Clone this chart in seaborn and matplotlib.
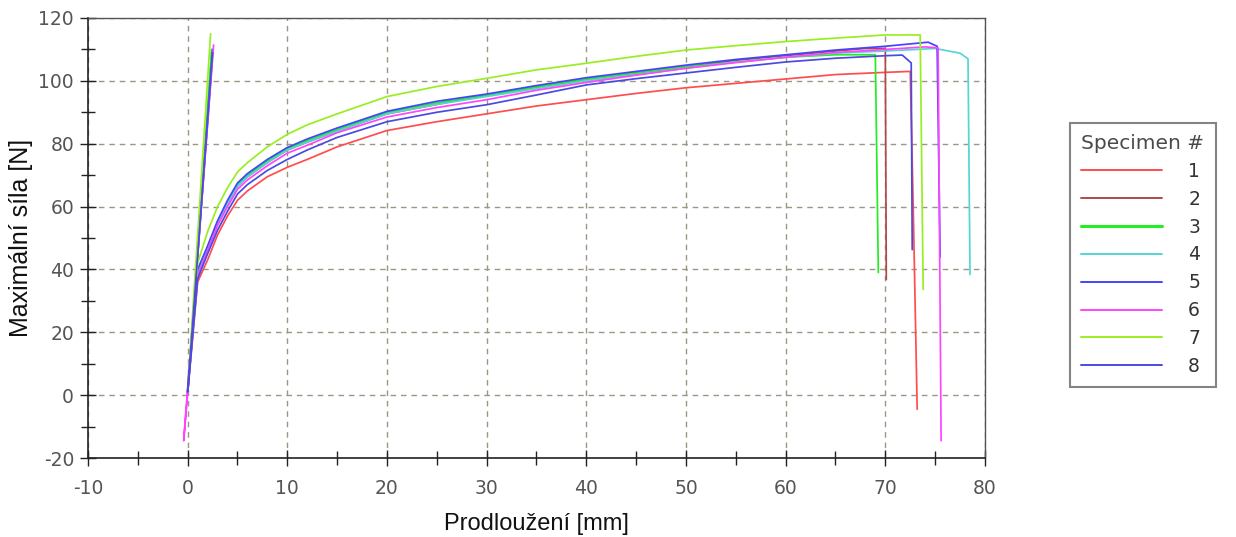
import matplotlib
matplotlib.use("Agg")
import matplotlib.pyplot as plt
from matplotlib.ticker import MultipleLocator
import seaborn as sns
import pandas as pd

# Tensile test records: elongation [mm] vs. force [N] for eight specimens
SPECIMENS = ["1", "2", "3", "4", "5", "6", "7", "8"]
COLORS = ["#ff4d4d", "#b04a4a", "#22ee22", "#55d5d5",
          "#4444ff", "#ff44ff", "#99ee22", "#4a4ae0"]

# elastic ramp: end point at the top and start point at the bottom
RAMP_TOP_X = [2.4, 2.5, 2.4, 2.5, 2.5, 2.6, 2.3, 2.5]
RAMP_TOP_F = [108, 109, 110, 108, 110, 111.4, 115, 109]
RAMP_BOT_X = [0.0, 0.0, 0.0, 0.0, 0.0, -0.4, 0.0, 0.0]
RAMP_BOT_F = [0.5, 1.0, 1.0, 1.0, 1.4, -14.5, 1.5, 1.0]

# hardening curve, sampled on a common elongation grid
STRAIN = [1, 2, 3, 4, 5, 6, 8, 10, 12, 15, 20, 25, 30, 35, 40, 45, 50, 55, 60, 65]
F1 = [36, 43, 51, 57, 62, 65, 69.5, 72.5, 75, 79, 84.2, 87, 89.5, 92, 94, 96, 97.8, 99.2, 100.6, 102]
F2 = [39, 47, 55, 61, 66.5, 69.5, 74, 78, 80.5, 84, 89.5, 92.5, 95.5, 98, 100.5, 102.5, 104.5, 106.5, 108, 109.5]
F3 = [39, 47, 55, 61.5, 67, 70, 74.5, 78.5, 81, 84.5, 90, 93, 95.5, 98, 100.5, 102.5, 104.5, 106, 107.5, 108.3]
F4 = [39, 47, 55, 61, 66.5, 69.5, 74, 78, 80.5, 84, 89.5, 92.5, 95, 97.5, 100, 102, 104, 106, 107.5, 108.8]
F5 = [40, 47.5, 55.5, 62, 67.5, 70.5, 75, 78.8, 81.5, 85, 90.3, 93.5, 95.8, 98.5, 101, 103, 105, 106.8, 108.3, 109.8]
F6 = [38, 46, 54, 60, 65.5, 68.5, 73, 77, 79.5, 83.5, 88.5, 91.5, 94, 97, 99.5, 101.8, 104, 105.8, 107.5, 109]
F7 = [42, 52, 60, 66, 71, 74, 79, 83, 86, 89.5, 95, 98.2, 100.8, 103.5, 105.6, 107.8, 109.8, 111.2, 112.5, 113.6]
F8 = [37, 45, 52.5, 58.5, 64, 67, 71.5, 75, 78, 82, 87, 90, 92.4, 95.5, 98.7, 100.7, 102.5, 104.3, 106, 107.2]
FORCES = [F1, F2, F3, F4, F5, F6, F7, F8]

# end of each test up to fracture
TAIL_X = [[70, 72.5, 72.8, 73.2],
          [68, 70.0, 70.1],
          [69.0, 69.3],
          [70, 75, 77.5, 78.3, 78.5],
          [70, 74.3, 75.2, 75.5],
          [70, 74, 75.3, 75.6],
          [70, 73.5, 73.8],
          [70, 71.7, 72.6, 72.7]]
TAIL_F = [[102.7, 103, 60, -4.5],
          [110.3, 110.3, 36.8],
          [108.3, 39],
          [109.5, 110.3, 108.8, 107, 38.4],
          [111, 112.3, 111, 44],
          [110, 110.8, 110.5, -14.5],
          [114.6, 114.6, 33.6],
          [108, 108.2, 105.7, 46.3]]

rows = []
for i, name in enumerate(SPECIMENS):
    xs = [RAMP_TOP_X[i], RAMP_BOT_X[i]] + STRAIN + TAIL_X[i]
    fs = [RAMP_TOP_F[i], RAMP_BOT_F[i]] + FORCES[i] + TAIL_F[i]
    for k, (x, f) in enumerate(zip(xs, fs)):
        rows.append({"specimen": name, "step": k, "x": x, "f": f})
df = pd.DataFrame(rows)

sns.set_theme(style="white")
plt.rcParams["font.family"] = ["DejaVu Sans"]
plt.rcParams["axes.unicode_minus"] = False

fig = plt.figure(figsize=(12.36, 5.37), dpi=100)
ax = fig.add_axes([0.0712, 0.1471, 0.7257, 0.8194])

sns.lineplot(data=df, x="x", y="f", hue="specimen", palette=COLORS,
             sort=False, estimator=None, linewidth=1.25, ax=ax, legend=False)

ax.set_xlim(-10, 80)
ax.set_ylim(-20, 120)
ax.xaxis.set_major_locator(MultipleLocator(10))
ax.xaxis.set_minor_locator(MultipleLocator(5))
ax.yaxis.set_major_locator(MultipleLocator(20))
ax.yaxis.set_minor_locator(MultipleLocator(10))

ax.grid(True, which="major", color="#9d9684", linestyle=(0, (4, 3.5)), linewidth=1.0)
ax.set_axisbelow(True)

ax.tick_params(which="major", direction="inout", length=12, width=1.0,
               color="#222222", labelsize=13.5, labelcolor="#555555",
               bottom=True, left=True)
ax.tick_params(which="minor", direction="inout", length=10, width=1.0,
               color="#222222", bottom=True, left=True)
ax.tick_params(axis="x", which="major", pad=9)
ax.tick_params(axis="y", which="major", pad=4)

for side in ["left", "bottom"]:
    ax.spines[side].set_color("#222222")
    ax.spines[side].set_linewidth(1.2)
for side in ["top", "right"]:
    ax.spines[side].set_color("#555555")
    ax.spines[side].set_linewidth(1.0)

ax.set_xlabel("Prodloužení [mm]", fontsize=17, family="Liberation Sans",
              color="#111111", labelpad=11)
ax.set_ylabel("Maximální síla [N]", fontsize=18, family="Liberation Sans",
              color="#111111", labelpad=4)

handles = []
for i, name in enumerate(SPECIMENS):
    lw = 2.2 if name == "3" else 1.4
    handles.append(plt.Line2D([], [], color=COLORS[i], linewidth=lw))
leg = fig.legend(handles, SPECIMENS, title="Specimen #",
                 loc="upper left", bbox_to_anchor=(0.8657, 0.771),
                 borderaxespad=0.0,
                 frameon=True, fancybox=False, edgecolor="#666666",
                 fontsize=13.5, title_fontsize=14.5, handlelength=4.3,
                 handletextpad=1.4, labelspacing=0.47, borderpad=0.6,
                 alignment="left")
leg.get_frame().set_linewidth(1.5)
leg.get_title().set_color("#4a4a4a")
for t in leg.get_texts():
    t.set_color("#333333")

fig.savefig("out.png", dpi=100, facecolor="white")
